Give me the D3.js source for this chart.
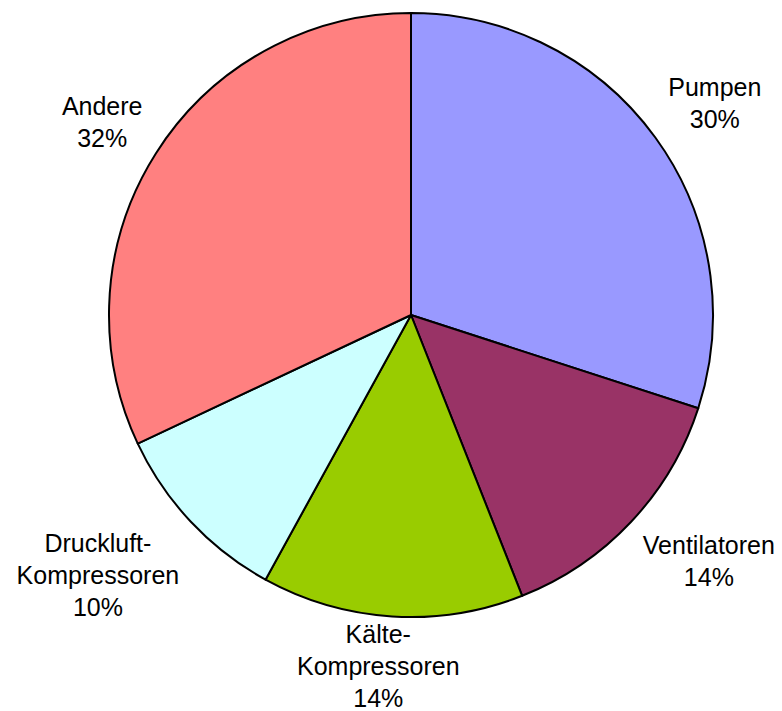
<!DOCTYPE html>
<html>
<head>
<meta charset="utf-8">
<script src="https://cdn.jsdelivr.net/npm/d3@7/dist/d3.min.js"></script>
<style>
  html, body { margin: 0; padding: 0; background: #fff; }
  svg { display: block; }
  .label { font-family: "Liberation Sans", Arial, sans-serif; font-size: 25px; fill: #000; }
</style>
</head>
<body>
<div id="chart"></div>
<script>
// 数据
const categories = ['Pumpen', 'Ventilatoren', 'Kälte-\nKompressoren', 'Druckluft-\nKompressoren', 'Andere'];
const shares = [30, 14, 14, 10, 32];
const sliceColors = ['#9999FF', '#993366', '#99CC00', '#CCFFFF', '#FF8080'];

const width = 782;
const height = 711;
const cx = 411;
const cy = 315;
const radius = 302;
const lineHeight = 32;
const baselineOffset = 24.5;   // 文本框顶部到第一行基线
const labelGap = 16;

const svg = d3.select('#chart')
  .append('svg')
  .attr('width', width)
  .attr('height', height);

const pie = d3.pie()
  .sort(null)
  .value(d => d.value);

const arcs = pie(categories.map((c, i) => ({ name: c, value: shares[i], color: sliceColors[i] })));

const arc = d3.arc()
  .innerRadius(0)
  .outerRadius(radius);

const g = svg.append('g')
  .attr('transform', `translate(${cx},${cy})`);

// 扇区
g.selectAll('path.slice')
  .data(arcs)
  .enter()
  .append('path')
  .attr('class', 'slice')
  .attr('d', arc)
  .attr('fill', d => d.data.color)
  .attr('stroke', '#000')
  .attr('stroke-width', 2)
  .attr('stroke-linejoin', 'round');

// 标签：文字框贴在扇区中线外侧的锚点旁，并限制在图表区域内
const clamp = v => Math.max(-1, Math.min(1, v));

const labels = svg.selectAll('text.label')
  .data(arcs)
  .enter()
  .append('text')
  .attr('class', 'label')
  .attr('text-anchor', 'middle');

labels.each(function (d) {
  const lines = d.data.name.split('\n').concat([d.data.value + '%']);
  const t = d3.select(this);
  lines.forEach((line, i) => {
    t.append('tspan')
      .attr('x', 0)
      .attr('dy', i === 0 ? 0 : lineHeight)
      .text(line);
  });
  let w = 0;
  t.selectAll('tspan').each(function () {
    w = Math.max(w, this.getComputedTextLength());
  });
  const h = lines.length * lineHeight;
  const a = (d.startAngle + d.endAngle) / 2;
  const ux = Math.sin(a);
  const uy = -Math.cos(a);
  const px = cx + (radius + labelGap) * ux;
  const py = cy + (radius + labelGap) * uy;
  let x = px + clamp(ux * 2.5) * w / 2;
  let y = py + clamp(uy * 1.3) * h / 2;
  let first = y - h / 2 + baselineOffset;
  const last = first + (lines.length - 1) * lineHeight;
  if (last > height - 4) first -= last - (height - 4);
  if (first - baselineOffset < 0) first = baselineOffset;
  x = Math.max(w / 2 + 2, Math.min(width - w / 2 - 2, x));
  t.attr('transform', `translate(${x},${first})`);
});
</script>
</body>
</html>
